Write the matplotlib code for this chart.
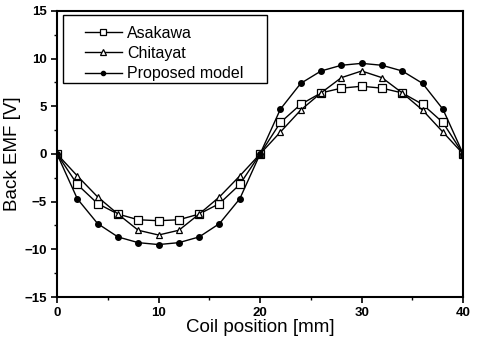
import numpy as np
import matplotlib
matplotlib.use('Agg')
import matplotlib.pyplot as plt
from matplotlib.patches import Rectangle
from matplotlib.ticker import MultipleLocator

plt.rcParams['font.family'] = ['Liberation Sans', 'DejaVu Sans']

position = [0, 2, 4, 6, 8, 10, 12, 14, 16, 18, 20, 22, 24, 26, 28, 30, 32, 34, 36, 38, 40]
asakawa = [0, -3.2, -5.2, -6.3, -6.9, -7.0, -6.9, -6.3, -5.2, -3.2, 0,
           3.3, 5.2, 6.4, 6.9, 7.1, 6.9, 6.4, 5.2, 3.3, 0]
chitayat = [0, -2.3, -4.5, -6.3, -8.0, -8.5, -8.0, -6.3, -4.5, -2.3, 0,
            2.3, 4.6, 6.4, 8.0, 8.7, 8.0, 6.4, 4.6, 2.3, 0]
proposed = [0, -4.7, -7.3, -8.7, -9.3, -9.5, -9.3, -8.7, -7.3, -4.7, 0,
            4.7, 7.4, 8.7, 9.3, 9.5, 9.3, 8.7, 7.4, 4.7, 0]

fig = plt.figure(figsize=(4.79, 3.41), dpi=100)
ax = fig.add_axes([0.119, 0.129, 0.848, 0.839])

ax.plot(position, asakawa, '-', color='black', lw=1, marker='s', ms=5.5,
        mfc='white', mec='black', mew=0.9, label='Asakawa')
ax.plot(position, chitayat, '-', color='black', lw=1, marker='^', ms=5,
        mfc='white', mec='black', mew=0.9, label='Chitayat')
ax.plot(position, proposed, '-', color='black', lw=1, marker='o', ms=4,
        mfc='black', mec='black', label='Proposed model')

ax.set_xlim(0, 40)
ax.set_ylim(-15, 15)
ax.xaxis.set_major_locator(MultipleLocator(10))
ax.xaxis.set_minor_locator(MultipleLocator(5))
ax.yaxis.set_major_locator(MultipleLocator(5))
ax.yaxis.set_minor_locator(MultipleLocator(2.5))
ax.tick_params(which='major', direction='out', length=4, width=1.2, labelsize=9.5)
ax.tick_params(which='minor', direction='out', length=2, width=1)
for lab in ax.get_xticklabels() + ax.get_yticklabels():
    lab.set_fontweight('bold')
for s in ax.spines.values():
    s.set_linewidth(1.5)

ax.set_xlabel('Coil position [mm]', fontsize=13.5, labelpad=0)
ax.set_ylabel('Back EMF [V]', fontsize=13.5, labelpad=2)

# legend frame is wider than matplotlib's padding allows, draw it separately
ax.add_patch(Rectangle((0.015, 0.748), 0.502, 0.238, transform=ax.transAxes,
                       fill=True, facecolor='white', edgecolor='black', lw=1, zorder=4))
leg = ax.legend(loc='upper left', fontsize=11.5, frameon=False,
                handlelength=2.3, handletextpad=0.35, borderpad=0,
                labelspacing=0.33, markerscale=0.75,
                borderaxespad=0, bbox_to_anchor=(0.069, 0.948))
leg.set_zorder(5)

fig.savefig('out.png', dpi=100)
